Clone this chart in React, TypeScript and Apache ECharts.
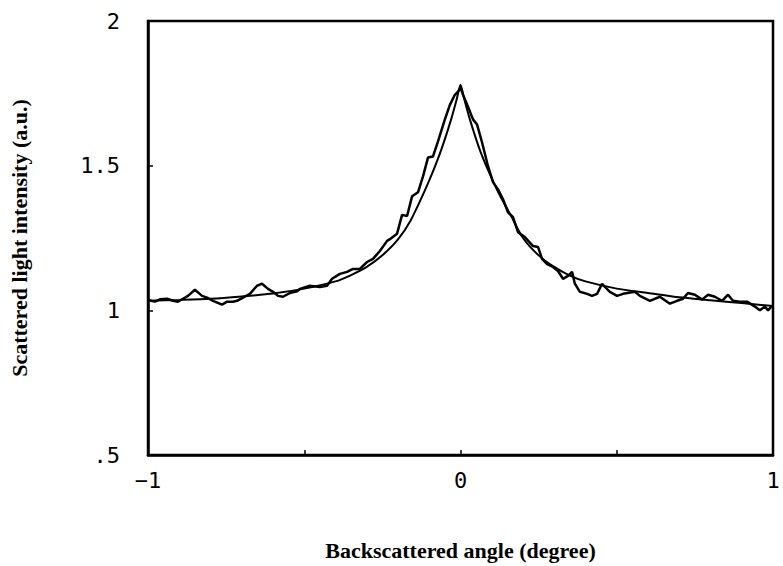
import React, { useEffect, useRef } from "react";
import * as echarts from "echarts";

// Measured (noisy) backscattered intensity
const measuredAngle = [
  -1.0, -0.978, -0.962, -0.939, -0.92, -0.904, -0.888, -0.872, -0.85, -0.827,
  -0.811, -0.792, -0.763, -0.747, -0.728, -0.715, -0.696, -0.674, -0.651, -0.635,
  -0.616, -0.6, -0.584, -0.568, -0.546, -0.523, -0.514, -0.482, -0.45, -0.427,
  -0.411, -0.386, -0.363, -0.344, -0.322, -0.299, -0.28, -0.258, -0.235, -0.226,
  -0.203, -0.187, -0.171, -0.155, -0.136, -0.12, -0.104, -0.088, -0.072, -0.05,
  -0.034, -0.018, -0.008, 0.0, 0.008, 0.024, 0.04, 0.053, 0.069, 0.088,
  0.104, 0.12, 0.136, 0.152, 0.168, 0.184, 0.206, 0.232, 0.248, 0.261,
  0.277, 0.296, 0.312, 0.328, 0.344, 0.357, 0.366, 0.382, 0.405, 0.421,
  0.437, 0.453, 0.462, 0.478, 0.501, 0.52, 0.558, 0.574, 0.606, 0.638,
  0.67, 0.693, 0.712, 0.728, 0.75, 0.773, 0.792, 0.814, 0.837, 0.856,
  0.872, 0.894, 0.917, 0.942, 0.958, 0.974, 0.984, 0.997
];
const measuredIntensity = [
  1.036, 1.03, 1.038, 1.04, 1.033, 1.03, 1.04, 1.05, 1.071, 1.05,
  1.044, 1.033, 1.02, 1.03, 1.03, 1.033, 1.044, 1.057, 1.085, 1.092,
  1.074, 1.064, 1.05, 1.047, 1.06, 1.066, 1.074, 1.085, 1.081, 1.085,
  1.109, 1.126, 1.133, 1.143, 1.143, 1.167, 1.178, 1.205, 1.24, 1.246,
  1.265, 1.33, 1.326, 1.394, 1.408, 1.463, 1.528, 1.532, 1.584, 1.66,
  1.71, 1.745, 1.756, 1.77, 1.745, 1.704, 1.66, 1.642, 1.58, 1.498,
  1.443, 1.418, 1.384, 1.339, 1.322, 1.27, 1.253, 1.222, 1.219, 1.178,
  1.16, 1.15, 1.136, 1.109, 1.119, 1.133, 1.092, 1.064, 1.057, 1.05,
  1.057, 1.092, 1.081, 1.064, 1.05, 1.057, 1.064, 1.05, 1.033, 1.047,
  1.023, 1.033, 1.04, 1.06, 1.054, 1.037, 1.054, 1.047, 1.033, 1.054,
  1.033, 1.03, 1.03, 1.013, 1.0, 1.013, 1.0, 1.016
];

// Fitted (smooth) curve
const fitAngle = [
  -1.0, -0.9, -0.8, -0.7, -0.6, -0.5, -0.4, -0.35, -0.3, -0.25,
  -0.2, -0.16, -0.12, -0.09, -0.06, -0.03, -0.012, 0.0, 0.012, 0.03,
  0.06, 0.09, 0.12, 0.16, 0.2, 0.25, 0.3, 0.35, 0.4, 0.5,
  0.6, 0.7, 0.8, 0.9, 1.0
];
const fitIntensity = [
  1.033, 1.036, 1.04, 1.048, 1.058, 1.075, 1.1, 1.122, 1.15, 1.19,
  1.245, 1.31, 1.4, 1.475, 1.56, 1.66, 1.73, 1.78, 1.73, 1.66,
  1.56, 1.48, 1.41, 1.33, 1.25, 1.19, 1.15, 1.12, 1.1, 1.075,
  1.06, 1.045, 1.035, 1.025, 1.015
];

const xTicks = { min: -1, max: 1, interval: 0.5 };
const yTicks = { min: 0.5, max: 2, interval: 0.5 };

export default function App() {
  const ref = useRef<HTMLDivElement>(null);
  useEffect(() => {
    if (!ref.current) return;
    const chart = echarts.init(ref.current, null, { renderer: "svg" });
    const tickFont = {
      fontFamily: "DejaVu Sans Mono",
      fontSize: 22,
      color: "#000",
    };
    const titleFont = {
      fontFamily: "Liberation Serif",
      fontWeight: "bold",
      fontSize: 22,
      color: "#000",
    };
    chart.setOption({
      animation: false,
      backgroundColor: "#fff",
      grid: {
        left: 148,
        right: 10,
        top: 21,
        bottom: 109,
        show: true,
        borderColor: "#000",
        borderWidth: 2.5,
        backgroundColor: "transparent",
      },
      xAxis: {
        type: "value",
        min: xTicks.min,
        max: xTicks.max,
        interval: xTicks.interval,
        name: "Backscattered angle (degree)",
        nameLocation: "middle",
        nameGap: 84,
        nameTextStyle: titleFont,
        axisLine: { show: true, onZero: false, lineStyle: { color: "#000", width: 2.5 } },
        axisTick: { show: true, inside: true, length: 5, lineStyle: { color: "#000", width: 1.5 } },
        splitLine: { show: false },
        axisLabel: {
          ...tickFont,
          margin: 14,
          formatter: (v: number) => (v === -1 ? "−1" : v === 1 ? "1" : v === 0 ? "0" : ""),
        },
      },
      yAxis: {
        type: "value",
        min: yTicks.min,
        max: yTicks.max,
        interval: yTicks.interval,
        name: "Scattered light intensity (a.u.)",
        nameLocation: "middle",
        nameGap: 118,
        nameTextStyle: titleFont,
        axisLine: { show: true, onZero: false, lineStyle: { color: "#000", width: 2.5 } },
        axisTick: { show: true, inside: true, length: 5, lineStyle: { color: "#000", width: 1.5 } },
        splitLine: { show: false },
        axisLabel: {
          ...tickFont,
          margin: 28,
          formatter: (v: number) => (v === 0.5 ? ".5" : String(v)),
        },
      },
      series: [
        {
          type: "line",
          name: "Measured",
          data: measuredAngle.map((x, i) => [x, measuredIntensity[i]]),
          showSymbol: false,
          symbol: "none",
          lineStyle: { color: "#000", width: 2.5 },
          z: 3,
        },
        {
          type: "line",
          name: "Fit",
          data: fitAngle.map((x, i) => [x, fitIntensity[i]]),
          showSymbol: false,
          symbol: "none",
          smooth: 0.25,
          lineStyle: { color: "#000", width: 2 },
          z: 2,
        },
      ],
    });
    return () => chart.dispose();
  }, []);
  return <div ref={ref} style={{ width: 783, height: 566, position: "absolute", left: 0, top: 0 }} />;
}
